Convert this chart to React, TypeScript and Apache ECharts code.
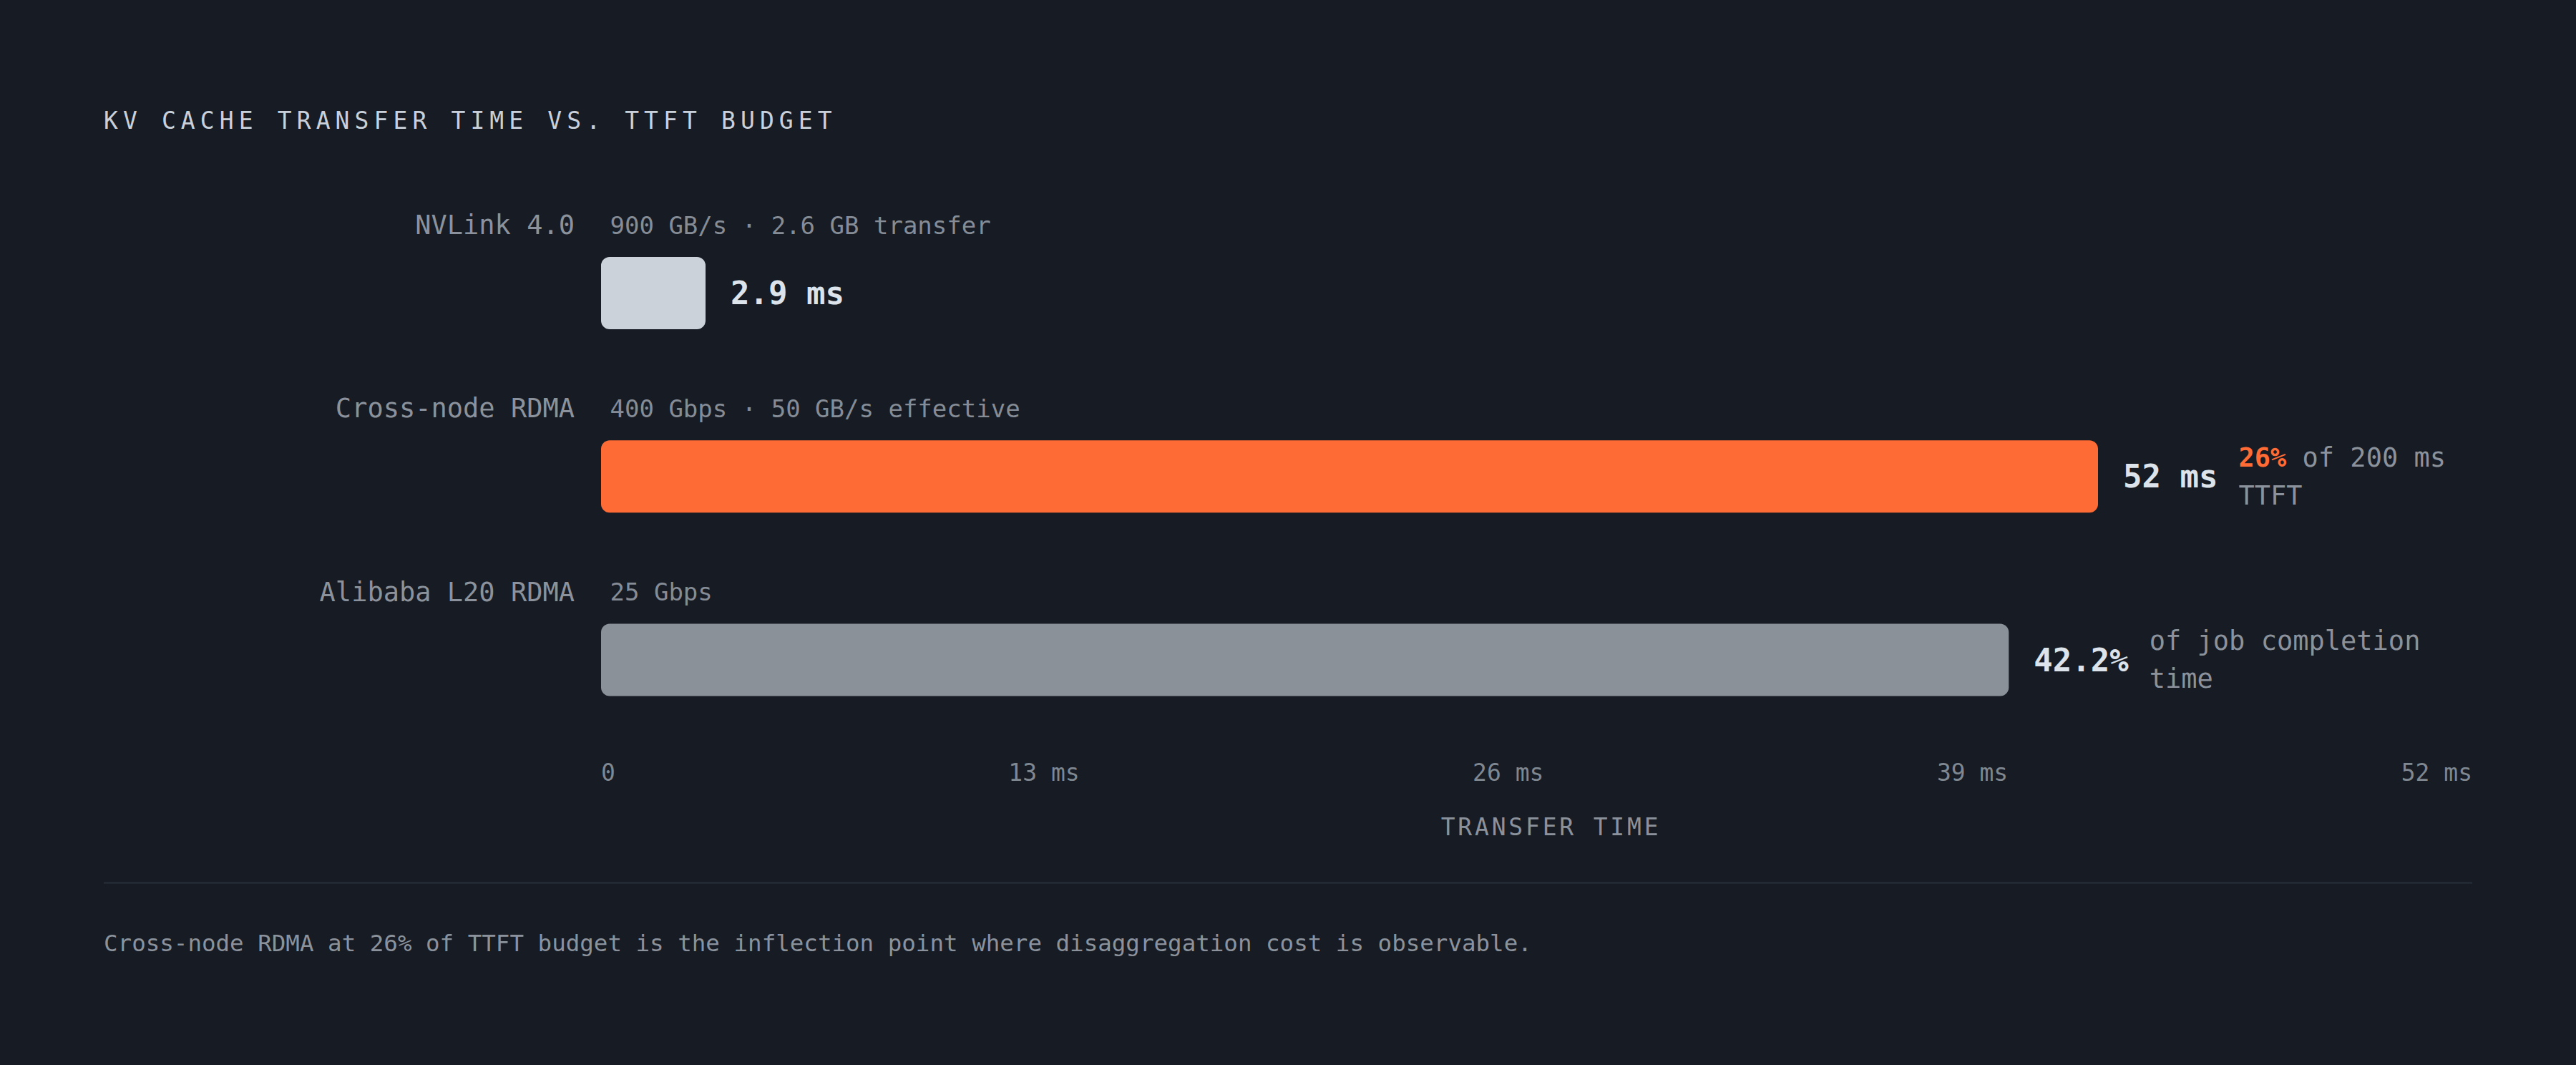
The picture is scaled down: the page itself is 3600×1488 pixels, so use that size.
import React, { useEffect, useRef } from "react";
import * as echarts from "echarts";

const TITLE = "KV CACHE TRANSFER TIME VS. TTFT BUDGET";
const CATEGORIES = ["NVLink 4.0", "Cross-node RDMA", "Alibaba L20 RDMA"];
const SUBLABELS = ["900 GB/s · 2.6 GB transfer", "400 Gbps · 50 GB/s effective", "25 Gbps"];
const TRANSFER_MS = [2.9, 52, 48.9];
const VALUE_LABELS = ["2.9 ms", "52 ms", "42.2%"];
const NOTE_HIGHLIGHT = ["", "26%", ""];
const NOTE_TEXT = ["", " of 200 ms\nTTFT", "of job completion\ntime"];
const BAR_COLORS = ["#cbd2da", "#ff6b35", "#8b9199"];
const TICK_LABELS = ["0", "13 ms", "26 ms", "39 ms", "52 ms"];
const AXIS_NAME = "TRANSFER TIME";
const FOOTNOTE =
  "Cross-node RDMA at 26% of TTFT budget is the inflection point where disaggregation cost is observable.";

const FONT = "DejaVu Sans Mono";
const BG = "#161b24";

export default function App() {
  const ref = useRef<HTMLDivElement>(null);

  useEffect(() => {
    const chart = echarts.init(ref.current!, null, { renderer: "svg", width: 3600, height: 1488 });

    const gridLeft = 840;
    const gridWidth = 2615;
    const gridTop = 281.4;
    const gridHeight = 768.75;
    const barW = 101;
    const labelRise = -44.5;

    const tickFs = 33;
    const charW = tickFs * 0.602;
    const wideW = 5 * charW;
    const tickRich: any = {
      t0: { padding: [0, 0, 0, charW] },
      t1: { padding: [0, wideW - 2 * charW * 0.75, 0, 0] },
      t2: { padding: [0, wideW - 2 * charW * 0.5, 0, 0] },
      t3: { padding: [0, wideW - 2 * charW * 0.25, 0, 0] },
      t4: { padding: [0, wideW, 0, 0] },
    };

    const valueFs = 44;
    const valueDist = 35;
    const noteDist = (i: number) => valueDist + VALUE_LABELS[i].length * valueFs * 0.602 + 29;

    const ghostBar = (name: string, label: any, data: any[]) => ({
      type: "bar",
      name,
      xAxisIndex: 0,
      yAxisIndex: 0,
      barWidth: barW,
      barGap: "-100%",
      barMinHeight: 146,
      silent: true,
      itemStyle: { color: "rgba(0,0,0,0)" },
      data,
      label,
    });

    const option: any = {
      animation: false,
      backgroundColor: BG,
      title: {
        text: TITLE,
        left: 145,
        top: 152,
        padding: 0,
        textStyle: {
          fontFamily: FONT + ", monospace",
          fontSize: 33,
          fontWeight: "normal",
          color: "#c9d0d9",
        },
      },
      grid: { left: gridLeft, top: gridTop, width: gridWidth, height: gridHeight, containLabel: false },
      xAxis: [
        {
          type: "value",
          min: 0,
          max: 65,
          show: false,
          gridIndex: 0,
        },
        {
          type: "value",
          min: 0,
          max: 52,
          interval: 13,
          position: "bottom",
          gridIndex: 0,
          axisLine: { show: false },
          axisTick: { show: false },
          splitLine: { show: false },
          axisLabel: {
            show: true,
            margin: 29,
            verticalAlign: "middle",
            fontFamily: FONT,
            fontSize: tickFs,
            color: "#7f8791",
            formatter: (v: number) => {
              const idx = Math.round(v / 13);
              return `{t${idx}|${TICK_LABELS[idx]}}`;
            },
            rich: tickRich,
          },
          name: AXIS_NAME,
          nameLocation: "middle",
          nameGap: 105,
          nameTextStyle: {
            fontFamily: FONT + ", Liberation Mono",
            fontSize: 33,
            color: "#8b929b",
            verticalAlign: "middle",
            padding: [0, 0, 0, 40],
          },
        },
      ],
      yAxis: [
        {
          type: "category",
          data: CATEGORIES,
          inverse: true,
          gridIndex: 0,
          axisLine: { show: false },
          axisTick: { show: false },
          splitLine: { show: false },
          axisLabel: { show: false },
        },
      ],
      series: [
        {
          type: "bar",
          name: "Transfer time",
          xAxisIndex: 0,
          yAxisIndex: 0,
          barWidth: barW,
          barGap: "-100%",
          barMinHeight: 146,
          data: TRANSFER_MS.map((v, i) => ({
            value: v,
            itemStyle: { color: BAR_COLORS[i], borderRadius: 12 },
          })),
          label: {
            show: true,
            position: "right",
            distance: valueDist,
            fontFamily: FONT,
            fontWeight: "bold",
            fontSize: valueFs,
            color: "#dde3ea",
            formatter: (p: any) => VALUE_LABELS[p.dataIndex],
          },
        },
        ghostBar(
          "Budget note",
          {
            show: true,
            position: "right",
            align: "left",
            fontFamily: FONT,
            fontSize: 37,
            color: "#8b929b",
            formatter: (p: any) => {
              const i = p.dataIndex;
              if (!NOTE_TEXT[i]) return "";
              return NOTE_TEXT[i]
                .split("\n")
                .map((line, k) => (k === 0 && NOTE_HIGHLIGHT[i] ? `{p|${NOTE_HIGHLIGHT[i]}}` : "") + `{n|${line}}`)
                .join("\n");
            },
            rich: {
              n: { fontFamily: FONT, fontSize: 37, color: "#8b929b", lineHeight: 53 },
              p: { fontFamily: FONT, fontSize: 37, fontWeight: "bold", color: "#ff6b35", lineHeight: 53 },
            },
          },
          TRANSFER_MS.map((v, i) => ({
            value: v,
            label: { show: NOTE_TEXT[i] !== "", distance: noteDist(i) },
          }))
        ),
        ghostBar(
          "Link",
          {
            show: true,
            position: [-37, labelRise],
            align: "right",
            verticalAlign: "middle",
            fontFamily: FONT,
            fontSize: 37,
            color: "#8b929b",
            formatter: (p: any) => CATEGORIES[p.dataIndex],
          },
          TRANSFER_MS.slice()
        ),
        ghostBar(
          "Link spec",
          {
            show: true,
            position: [12.5, labelRise],
            align: "left",
            verticalAlign: "middle",
            fontFamily: FONT,
            fontSize: 34,
            color: "#858c96",
            formatter: (p: any) => SUBLABELS[p.dataIndex],
          },
          TRANSFER_MS.slice()
        ),
      ],
      graphic: [
        {
          type: "line",
          silent: true,
          shape: { x1: 145, y1: 1233.5, x2: 3455, y2: 1233.5 },
          style: { stroke: "#262c36", lineWidth: 2.5 },
        },
        {
          type: "text",
          x: 145,
          y: 1318,
          silent: true,
          style: {
            text: FOOTNOTE,
            fill: "#8b929b",
            font: `32.5px ${FONT}`,
            textAlign: "left",
            textVerticalAlign: "middle",
          },
        },
      ],
    };

    chart.setOption(option);
    return () => chart.dispose();
  }, []);

  return (
    <>
      <style>{`
        text[style*="monospace"] { letter-spacing: 7.1px; }
        text[style*="Liberation"] { letter-spacing: 3.8px; }
      `}</style>
      <div
        ref={ref}
        style={{ position: "absolute", left: 0, top: 0, width: 3600, height: 1488, background: BG }}
      />
    </>
  );
}
